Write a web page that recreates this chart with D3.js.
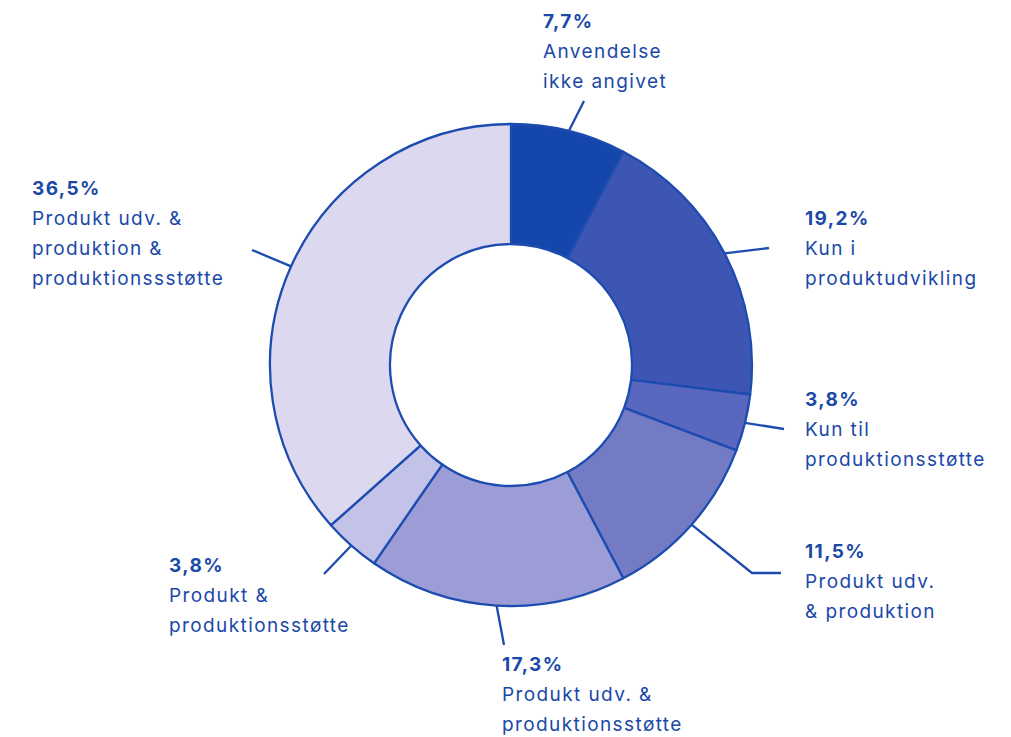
<!DOCTYPE html>
<html>
<head>
<meta charset="utf-8">
<script src="https://cdn.jsdelivr.net/npm/d3@7"></script>
<style>
  body { margin: 0; background: #fff; }
  svg text { font-family: Inter, "Noto Sans", sans-serif; fill: #1b49a8; }
  .pct { font-weight: 700; font-size: 19px; letter-spacing: 1.4px; }
  .lbl { font-weight: 400; font-size: 19px; letter-spacing: 1.4px; }
</style>
</head>
<body>
<div id="chart"></div>
<script>
// values clockwise from 12 o'clock
var categories = [
  ["Anvendelse", "ikke angivet"],
  ["Kun i", "produktudvikling"],
  ["Kun til", "produktionsstøtte"],
  ["Produkt udv.", "& produktion"],
  ["Produkt udv. &", "produktionsstøtte"],
  ["Produkt &", "produktionsstøtte"],
  ["Produkt udv. &", "produktion &", "produktionssstøtte"]
];
var values = [7.7, 19.2, 3.8, 11.5, 17.3, 3.8, 36.5];
var pctLabels = ["7,7%", "19,2%", "3,8%", "11,5%", "17,3%", "3,8%", "36,5%"];
var colors = ["#1446ab", "#3d56b4", "#5a67be", "#737bc5", "#9c9dd6", "#c3c2e8", "#dcd8f0"];

// label placement (text origin + leader end), layout only
var labelPos = [
  {x: 543, y: 28,  lead: [[584, 101]]},
  {x: 805, y: 225, lead: [[769, 248]]},
  {x: 805, y: 406, lead: [[784, 429]]},
  {x: 805, y: 558, lead: [[752, 573], [781, 573]]},
  {x: 502, y: 671, lead: [[504, 645]]},
  {x: 169, y: 572, lead: [[324, 574]]},
  {x: 32,  y: 195, lead: [[252, 250]]}
];

var width = 1011, height = 737;
var cx = 511, cy = 365, rOuter = 241, rInner = 121;
var lineColor = "#1d4cb0";

var svg = d3.select("#chart").append("svg")
    .attr("width", width)
    .attr("height", height);

var pie = d3.pie().sort(null).value(function(d){ return d; });
var arcs = pie(values);

var arc = d3.arc().innerRadius(rInner).outerRadius(rOuter);

var g = svg.append("g")
    .attr("transform", "translate(" + cx + "," + cy + ")");

g.selectAll("path.slice")
    .data(arcs)
  .enter().append("path")
    .attr("class", "slice")
    .attr("d", arc)
    .style("fill", function(d, i){ return colors[i]; })
    .style("stroke", lineColor)
    .style("stroke-width", 2.3)
    .style("stroke-linejoin", "round");

// leader lines start on the outer rim at each slice's mid angle
var lines = svg.append("g");
arcs.forEach(function(d, i) {
    var a = (d.startAngle + d.endAngle) / 2;
    var pts = [[cx + rOuter * Math.sin(a), cy - rOuter * Math.cos(a)]].concat(labelPos[i].lead);
    lines.append("path")
        .attr("d", d3.line()(pts))
        .style("fill", "none")
        .style("stroke", lineColor)
        .style("stroke-width", 2.3);
});

var labels = svg.append("g");
categories.forEach(function(lns, i) {
    var p = labelPos[i];
    var t = labels.append("text").attr("x", p.x).attr("y", p.y);
    t.append("tspan").attr("class", "pct").attr("x", p.x).text(pctLabels[i]);
    lns.forEach(function(s) {
        t.append("tspan").attr("class", "lbl").attr("x", p.x).attr("dy", 30).text(s);
    });
});
</script>
</body>
</html>
